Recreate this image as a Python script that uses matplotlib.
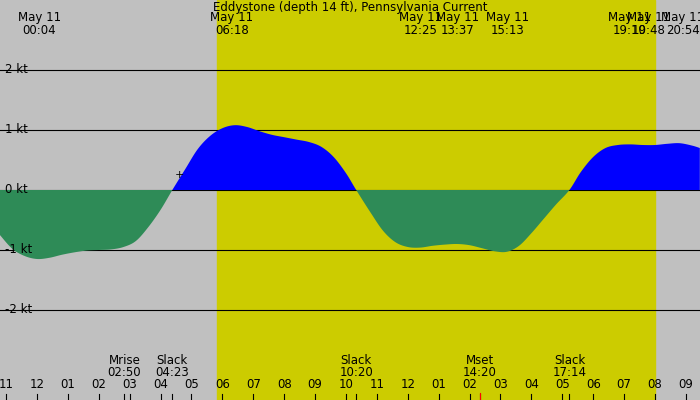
import matplotlib
matplotlib.use("Agg")
import matplotlib.pyplot as plt
import numpy as np

hours = [-1.2,-0.8,-0.4,0,0.4,0.8,1.2,1.6,2.0,2.4,2.8,3.2,3.6,4.0,4.38,4.8,5.2,5.6,6.0,6.4,6.8,7.2,7.6,8.0,8.4,8.8,9.2,9.6,10.0,10.33,10.8,11.2,11.6,12.0,12.4,12.8,13.2,13.6,14.0,14.4,14.8,15.2,15.6,16.0,16.4,16.8,17.23,17.6,18.0,18.4,18.8,19.2,19.6,20.0,20.4,20.8,21.2,21.45]
speed = [-0.75,-0.98,-1.1,-1.15,-1.13,-1.08,-1.04,-1.01,-1.0,-0.99,-0.95,-0.85,-0.62,-0.33,0,0.35,0.68,0.9,1.03,1.08,1.05,0.98,0.92,0.88,0.84,0.8,0.72,0.55,0.28,0,-0.38,-0.68,-0.87,-0.95,-0.96,-0.93,-0.91,-0.9,-0.92,-0.97,-1.02,-1.03,-0.93,-0.72,-0.48,-0.24,0,0.3,0.55,0.7,0.75,0.76,0.75,0.75,0.77,0.78,0.74,0.7]
top_times = [0.07, 6.3, 12.42, 13.62, 15.22, 19.17, 19.8, 20.9]
top_labels = ["May 11\n00:04","May 11\n06:18","May 11\n12:25","May 11\n13:37","May 11\n15:13","May 11\n19:10","May 11\n19:48","May 11\n20:54"]
ev_times = [2.83, 4.38, 10.33, 14.33, 17.23]
ev_labels = ["Mrise\n02:50","Slack\n04:23","Slack\n10:20","Mset\n14:20","Slack\n17:14"]
hour_ticks = list(range(-1, 22))
hour_labels = ["11","12","01","02","03","04","05","06","07","08","09","10","11","12","01","02","03","04","05","06","07","08","09"]
sunrise, sunset = 5.83, 20.0
kt_levels = [-2, -1, 0, 1, 2]

def smooth(x, y, n=10):
    # Catmull-Rom rendering between the read points
    x = np.asarray(x, float); y = np.asarray(y, float)
    px = np.concatenate([[x[0]], x, [x[-1]]]); py = np.concatenate([[y[0]], y, [y[-1]]])
    ox, oy = [], []
    for i in range(1, len(px) - 2):
        t = np.linspace(0, 1, n, endpoint=False)
        for p, o in ((px, ox), (py, oy)):
            p0, p1, p2, p3 = p[i-1], p[i], p[i+1], p[i+2]
            o.extend(0.5*((2*p1) + (-p0+p2)*t + (2*p0-5*p1+4*p2-p3)*t**2 + (-p0+3*p1-3*p2+p3)*t**3))
    ox.append(x[-1]); oy.append(y[-1])
    return np.array(ox), np.array(oy)

fig = plt.figure(figsize=(7, 4), dpi=100, facecolor="#c0c0c0")
ax = fig.add_axes([0, 0, 1, 1])
ax.set_facecolor("#c0c0c0")
x0 = -37/30.9
ax.set_xlim(x0, x0 + 700/30.9)
ax.set_ylim(-3.5, 190/60)
ax.axvspan(sunrise, sunset, color="#cccc00", zorder=0)
h, s = smooth(hours, speed)
ax.fill_between(h, s, 0, where=s <= 0, color="#2e8b57", interpolate=True, lw=0, zorder=2)
ax.fill_between(h, s, 0, where=s >= 0, color="#0000ff", interpolate=True, lw=0, zorder=2)
for k in kt_levels:
    ax.axhline(k, color="black", lw=0.8, zorder=1)
    ax.text(0.007, k, f"{k} kt", transform=ax.get_yaxis_transform(), va="center", ha="left", fontsize=8.5, zorder=3)
for t, l in zip(top_times, top_labels):
    ax.text(t, 2.98, l, ha="center", va="top", fontsize=8.5, linespacing=0.95)
ax.text(0.5, 0.998, "Eddystone (depth 14 ft), Pennsylvania Current", transform=ax.transAxes, ha="center", va="top", fontsize=8.5)
for t, l in zip(ev_times, ev_labels):
    ax.text(t, -2.73, l, ha="center", va="top", fontsize=8.5, linespacing=0.95)
    ax.plot([t, t], [-3.5, -3.4], color="black", lw=0.8)
for t, l in zip(hour_ticks, hour_labels):
    ax.text(t, -3.25, l, ha="center", va="center", fontsize=8.5)
    ax.plot([t, t], [-3.5, -3.4], color="black", lw=0.8)
ax.plot([14.33, 14.33], [-3.5, -3.38], color="red", lw=0.8)
ax.text(4.6, 0.25, "+", fontsize=8, ha="center", va="center")
ax.axis("off")
fig.savefig("out.png", dpi=100, facecolor=fig.get_facecolor())
